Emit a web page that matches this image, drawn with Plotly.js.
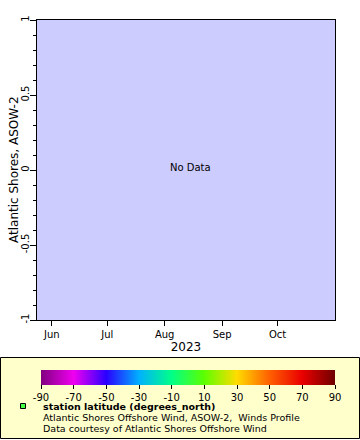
<!DOCTYPE html>
<html>
<head>
<meta charset="utf-8">
<script src="https://cdn.plot.ly/plotly-3.0.1.min.js"></script>
<style>
html,body{margin:0;padding:0;background:#fff;}
#chart{width:360px;height:440px;}
</style>
</head>
<body>
<div id="chart"></div>
<script>
// ---- data: the station returned one empty (missing) record -> "No Data" ----
const times = [null];
const latitude = [null];
const timeRange = ['2023-05-24', '2023-11-01'];
const monthTicks = ['2023-06-01', '2023-07-01', '2023-08-01', '2023-09-01', '2023-10-01'];
const monthLabels = ['Jun', 'Jul', 'Aug', 'Sep', 'Oct'];
const yTicks = [-1, -0.5, 0, 0.5, 1];
const yTickLabels = ['-1', '-0.5', '0', '0.5', '1'];
const colorTicks = [-90, -70, -50, -30, -10, 10, 30, 50, 70, 90];
const colorTickLabels = ['-90', '-70', '-50', '-30', '-10', '10', '30', '50', '70', '90'];
const legendLines = [
  '<b>station latitude (degrees_north)</b>',
  'Atlantic Shores Offshore Wind, ASOW-2,  Winds Profile',
  'Data courtesy of Atlantic Shores Offshore Wind'
];

// ---- layout helpers (pixel -> paper) ----
const W = 360, H = 440;
const M = {l: 37, r: 25, t: 20, b: 120};
const PW = W - M.l - M.r, PH = H - M.t - M.b;
const px = x => (x - M.l) / PW;
const py = y => (H - M.b - y) / PH;

const FONT = 'DejaVu Sans, Verdana, sans-serif';

const colorscale = [
  [0.000, '#800080'],
  [0.111, '#f000f0'],
  [0.222, '#2a00ff'],
  [0.333, '#00b0ff'],
  [0.444, '#00ff88'],
  [0.555, '#5cff00'],
  [0.666, '#ffdc00'],
  [0.777, '#ff6000'],
  [0.888, '#ea0000'],
  [1.000, '#700000']
];

const trace = {
  type: 'scatter',
  mode: 'markers',
  x: times,
  y: latitude,
  marker: {
    color: latitude,
    colorscale: colorscale,
    cmin: -90, cmax: 90,
    showscale: true,
    colorbar: {
      orientation: 'h',
      x: px((41 + 335) / 2), xanchor: 'center',
      y: py(370), yanchor: 'top',
      len: 294, lenmode: 'pixels',
      thickness: 15, thicknessmode: 'pixels',
      xpad: 0, ypad: 0,
      outlinewidth: 0,
      tickmode: 'array',
      tickvals: colorTicks,
      ticktext: colorTickLabels,
      ticks: 'outside', ticklen: 4, tickcolor: '#000', tickwidth: 1,
      tickfont: {family: FONT, size: 10, color: '#000'}
    }
  },
  showlegend: false,
  hoverinfo: 'skip'
};

const layout = {
  width: W, height: H,
  margin: M,
  paper_bgcolor: '#ffffff',
  plot_bgcolor: '#ccccff',
  showlegend: false,
  font: {family: FONT, size: 10, color: '#000'},
  xaxis: {
    type: 'date',
    range: timeRange,
    tickmode: 'array',
    tickvals: monthTicks,
    ticktext: monthLabels,
    ticks: 'outside', ticklen: 5, tickcolor: '#000',
    showline: true, linecolor: '#000', linewidth: 1, mirror: true,
    showgrid: false, zeroline: false,
    tickfont: {family: FONT, size: 10, color: '#000'},
    title: {text: '2023', font: {family: FONT, size: 12, color: '#000'}, standoff: 2},
    automargin: false
  },
  yaxis: {
    range: [-1, 1],
    tickmode: 'array',
    tickvals: yTicks,
    ticktext: yTickLabels,
    tickangle: -90,
    ticklabelstandoff: -3,
    ticks: 'outside', ticklen: 6, tickcolor: '#000',
    minor: {dtick: 0.1, ticks: 'outside', ticklen: 3, tickcolor: '#000', showgrid: false},
    showline: true, linecolor: '#000', linewidth: 1, mirror: true,
    showgrid: false, zeroline: false,
    tickfont: {family: FONT, size: 10, color: '#000'},
    automargin: false
  },
  shapes: [
    {type: 'rect', xref: 'paper', yref: 'paper', layer: 'below',
     x0: px(0.5), x1: px(359.5), y0: py(357.5), y1: py(438.5),
     fillcolor: '#ffffcc', line: {color: '#000', width: 1}},
    {type: 'rect', xref: 'paper', yref: 'paper', layer: 'above',
     x0: px(20.5), x1: px(25.5), y0: py(403.5), y1: py(408.5),
     fillcolor: '#44ff44', line: {color: '#000', width: 1}}
  ],
  annotations: [
    {text: 'No Data', xref: 'paper', yref: 'paper', x: px(190), y: py(167),
     showarrow: false, xanchor: 'center', yanchor: 'middle',
     font: {family: FONT, size: 10, color: '#000'}},
    {text: 'Atlantic Shores, ASOW-2', xref: 'paper', yref: 'paper', x: px(14), y: py(170),
     textangle: -90, showarrow: false, xanchor: 'center', yanchor: 'middle',
     font: {family: FONT, size: 12, color: '#000'}}
  ].concat(legendLines.map((t, i) => ({
     text: t, xref: 'paper', yref: 'paper',
     x: px(42), y: py(406 + 11.2 * i),
     showarrow: false, xanchor: 'left', yanchor: 'middle', borderpad: 0,
     font: {family: FONT, size: 9.5, color: '#000'}
  })))
};

Plotly.newPlot('chart', [trace], layout, {staticPlot: true, displayModeBar: false});
</script>
</body>
</html>
